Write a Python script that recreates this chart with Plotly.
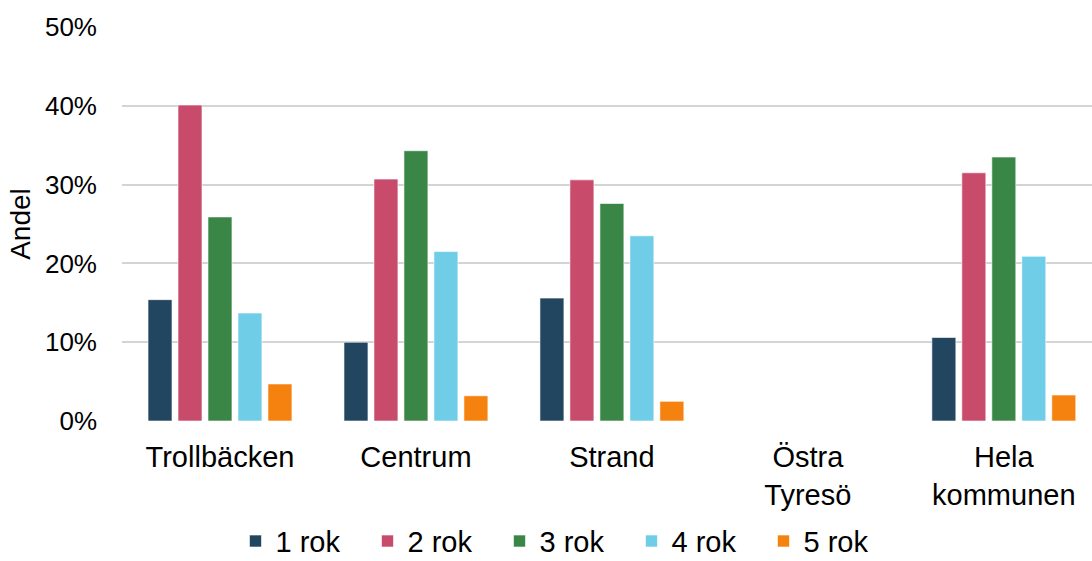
import plotly.graph_objects as go

# Andel per område och lägenhetsstorlek
omraden = ["Trollbäcken", "Centrum", "Strand", "Östra<br>Tyresö", "Hela<br>kommunen"]
serier = ["1 rok", "2 rok", "3 rok", "4 rok", "5 rok"]

rok1 = [0.154, 0.100, 0.156, None, 0.106]
rok2 = [0.401, 0.307, 0.306, None, 0.315]
rok3 = [0.259, 0.343, 0.276, None, 0.335]
rok4 = [0.137, 0.215, 0.235, None, 0.209]
rok5 = [0.047, 0.032, 0.025, None, 0.033]

varden = [rok1, rok2, rok3, rok4, rok5]
farger = ["#22465F", "#C84B6C", "#3A8647", "#70CDE8", "#F5820E"]

y_ticks = [0, 0.1, 0.2, 0.3, 0.4, 0.5]

fig = go.Figure()
for namn, v, f in zip(serier, varden, farger):
    fig.add_trace(go.Bar(
        x=omraden, y=v, name=namn,
        marker=dict(color=f, line=dict(color="rgba(255,255,255,0.6)", width=1)),
    ))

font_family = "Liberation Sans, Arial, sans-serif"

fig.update_layout(
    width=1092, height=561,
    margin=dict(l=122, r=0, t=27, b=140, autoexpand=False),
    paper_bgcolor="white", plot_bgcolor="white",
    barmode="group", bargap=0.235, bargroupgap=0.2,
    font=dict(family=font_family, size=26, color="#000000"),
    legend=dict(
        orientation="h", x=0.117, xanchor="left", y=-0.305, yanchor="middle",
        font=dict(size=29), entrywidth=87, itemwidth=30,
        traceorder="normal",
    ),
    xaxis=dict(
        range=[-0.5, 4.45], showline=False, ticks="", showgrid=False,
        tickfont=dict(size=29), ticklabelstandoff=16, fixedrange=True,
    ),
    yaxis=dict(
        range=[0, 0.5], tickvals=y_ticks, tickformat=".0%",
        showgrid=True, gridcolor="#D4D4D4", gridwidth=1.5,
        zeroline=False, showline=False, ticks="",
        ticklabelstandoff=24,
        tickfont=dict(size=26),
        title=dict(text="Andel", font=dict(size=28), standoff=6),
    ),
)

fig.write_html("out.html")
